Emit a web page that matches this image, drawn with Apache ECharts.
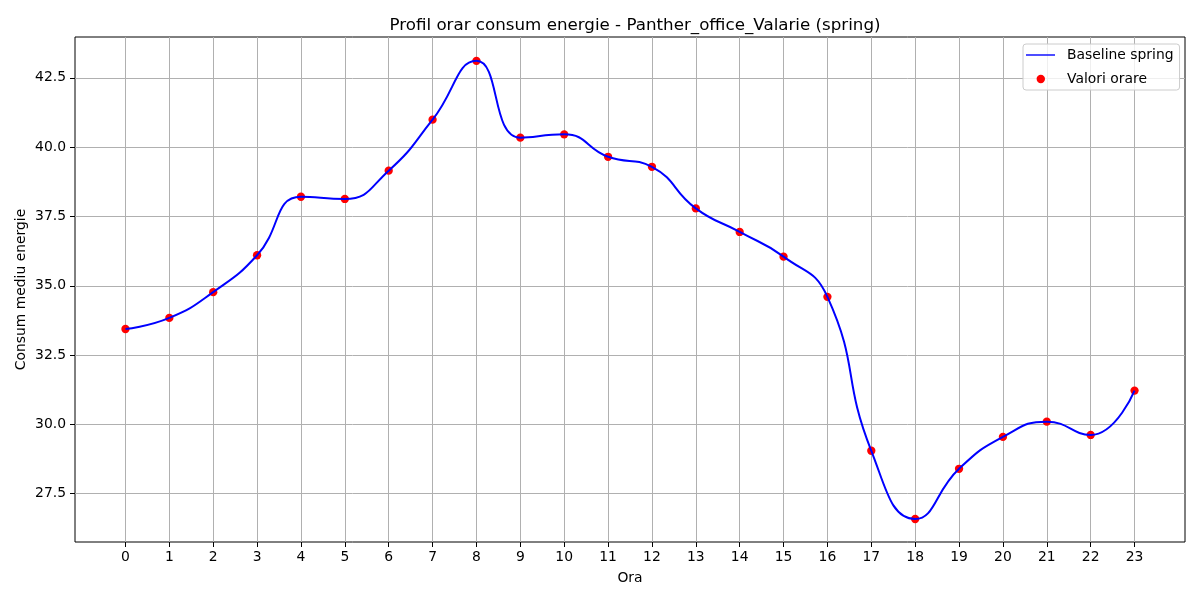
<!DOCTYPE html>
<html>
<head>
<meta charset="utf-8">
<title>Profil orar consum energie</title>
<script src="https://cdn.jsdelivr.net/npm/echarts@6/dist/echarts.min.js"></script>
<style>
  html, body { margin: 0; padding: 0; background: #fff; }
  #chart { width: 1200px; height: 600px; }
</style>
</head>
<body>
<div id="chart"></div>
<script>
// ore 0..23 si consumul mediu
var ore = [0, 1, 2, 3, 4, 5, 6, 7, 8, 9, 10, 11, 12, 13, 14, 15, 16, 17, 18, 19, 20, 21, 22, 23];
var consum = [33.44, 33.84, 34.77, 36.10, 38.21, 38.13, 39.15, 40.99, 43.11, 40.34, 40.46, 39.65,
              39.29, 37.79, 36.94, 36.05, 34.60, 29.05, 26.59, 28.40, 29.55, 30.10, 29.62, 31.22];
var yTicks = [27.5, 30.0, 32.5, 35.0, 37.5, 40.0, 42.5];

var font = 'DejaVu Sans';

// domeniile axelor (cu marginea de 5% ca in original)
var X_MIN = -1.15, X_MAX = 24.15;
var Y_MIN = 25.76, Y_MAX = 43.97;
var L = 75, R = 1185, T = 37, B = 542;

function xPx(v) { return L + (v - X_MIN) / (X_MAX - X_MIN) * (R - L); }
function yPx(v) { return T + (Y_MAX - v) / (Y_MAX - Y_MIN) * (B - T); }

var lineIcon = 'path://M0,0 M36,10 M0,4.3 L29,4.3 L29,5.7 L0,5.7 Z';
var dotIcon = 'path://M0,0 M36,10 M10.6,5 A4.2,4.2 0 1 0 19,5 A4.2,4.2 0 1 0 10.6,5 Z';

var myChart = echarts.init(document.getElementById('chart'));

var option = {
    animation: false,
    backgroundColor: '#fff',
    title: {
        text: 'Profil orar consum energie - Panther_office_Valarie (spring)',
        left: 630,
        textAlign: 'center',
        top: 12,
        textStyle: { fontFamily: font, fontSize: 16.7, fontWeight: 'normal', color: '#000' }
    },
    legend: {
        left: 1023,
        top: 44,
        orient: 'vertical',
        itemWidth: 36,
        itemHeight: 10,
        itemGap: 10,
        padding: [4, 6, 4, 3],
        backgroundColor: 'rgba(255,255,255,0.8)',
        borderColor: '#cccccc',
        borderWidth: 1,
        borderRadius: 3,
        itemStyle: { borderWidth: 0 },
        textStyle: { fontFamily: font, fontSize: 13.9, color: '#000' },
        data: [
            { name: 'Baseline spring', icon: lineIcon },
            { name: 'Valori orare', icon: dotIcon }
        ]
    },
    grid: [
        // zona de date, cu chenar
        { left: L, right: 1200 - R, top: T, bottom: 600 - B, show: true,
          borderColor: '#000', borderWidth: 1, backgroundColor: 'transparent' },
        // axa orelor
        { left: xPx(0), right: 1200 - xPx(23), top: T, bottom: 600 - B },
        // axa consumului
        { left: L, right: 1200 - R, top: yPx(42.5), bottom: 600 - yPx(27.5) }
    ],
    xAxis: [
        {
            gridIndex: 0, type: 'value', min: X_MIN, max: X_MAX,
            axisLine: { show: false, onZero: false }, axisTick: { show: false },
            axisLabel: { show: false }, splitLine: { show: false },
            name: 'Ora', nameLocation: 'middle', nameGap: 29,
            nameTextStyle: { fontFamily: font, fontSize: 13.9, color: '#000' }
        },
        {
            gridIndex: 1, type: 'value', min: ore[0], max: ore[ore.length - 1], interval: 1,
            axisLine: { show: false, onZero: false },
            axisTick: { show: true, length: 5, lineStyle: { color: '#000', width: 1 } },
            axisLabel: { margin: 8, color: '#000', fontFamily: font, fontSize: 13.9 },
            splitLine: { show: true, lineStyle: { color: '#b0b0b0', width: 1 } }
        },
        { gridIndex: 2, type: 'value', min: X_MIN, max: X_MAX, show: false }
    ],
    yAxis: [
        {
            gridIndex: 0, type: 'value', min: Y_MIN, max: Y_MAX,
            axisLine: { show: false, onZero: false }, axisTick: { show: false },
            axisLabel: { show: false }, splitLine: { show: false },
            name: 'Consum mediu energie', nameLocation: 'middle', nameGap: 47,
            nameTextStyle: { fontFamily: font, fontSize: 13.9, color: '#000' }
        },
        { gridIndex: 1, type: 'value', min: Y_MIN, max: Y_MAX, show: false },
        {
            gridIndex: 2, type: 'value', min: yTicks[0], max: yTicks[yTicks.length - 1], interval: 2.5,
            axisLine: { show: false, onZero: false },
            axisTick: { show: true, length: 5, lineStyle: { color: '#000', width: 1 } },
            axisLabel: {
                margin: 9, color: '#000', fontFamily: font, fontSize: 13.9,
                formatter: function (v) { return v.toFixed(1); }
            },
            splitLine: { show: true, lineStyle: { color: '#b0b0b0', width: 1 } }
        }
    ],
    series: [
        {
            name: 'Baseline spring',
            type: 'line',
            xAxisIndex: 0, yAxisIndex: 0,
            smooth: 0.5,
            symbol: 'none',
            color: '#0000ff',
            lineStyle: { color: '#0000ff', width: 2 },
            itemStyle: { color: '#0000ff' },
            z: 3,
            data: ore.map(function (h, i) { return [h, consum[i]]; })
        },
        {
            name: 'Valori orare',
            type: 'scatter',
            xAxisIndex: 0, yAxisIndex: 0,
            symbolSize: 8.3,
            itemStyle: { color: '#ff0000', opacity: 1 },
            z: 2,
            data: ore.map(function (h, i) { return [h, consum[i]]; })
        }
    ]
};

myChart.setOption(option);
</script>
</body>
</html>
